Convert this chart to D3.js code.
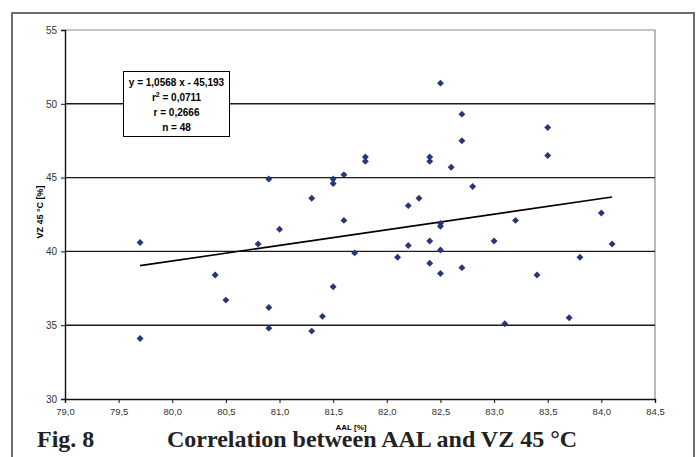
<!DOCTYPE html>
<html>
<head>
<meta charset="utf-8">
<script src="https://cdn.jsdelivr.net/npm/d3@7"></script>
<style>
  body { margin: 0; background: #fff; }
  svg { display: block; }
</style>
</head>
<body>
<svg id="chart" width="700" height="457"></svg>
<script>
// AAL [%] vs VZ 45 °C [%]
var aal = [79.7, 79.7, 80.4, 80.5, 80.8, 80.9, 80.9, 80.9, 81.0, 81.3,
           81.3, 81.4, 81.5, 81.5, 81.5, 81.6, 81.6, 81.7, 81.8, 81.8,
           82.1, 82.2, 82.2, 82.3, 82.4, 82.4, 82.4, 82.4, 82.5, 82.5,
           82.5, 82.5, 82.5, 82.6, 82.7, 82.7, 82.7, 82.8, 83.0, 83.1,
           83.2, 83.4, 83.5, 83.5, 83.7, 83.8, 84.0, 84.1];
var vz = [40.6, 34.1, 38.4, 36.7, 40.5, 44.9, 36.2, 34.8, 41.5, 43.6,
          34.6, 35.6, 44.9, 44.6, 37.6, 45.2, 42.1, 39.9, 46.4, 46.1,
          39.6, 43.1, 40.4, 43.6, 46.4, 46.1, 40.7, 39.2, 51.4, 41.9,
          41.7, 40.1, 38.5, 45.7, 49.3, 47.5, 38.9, 44.4, 40.7, 35.1,
          42.1, 38.4, 48.4, 46.5, 35.5, 39.6, 42.6, 40.5];
var xTicks = [79.0, 79.5, 80.0, 80.5, 81.0, 81.5, 82.0, 82.5, 83.0, 83.5, 84.0, 84.5];
var yTicks = [30, 35, 40, 45, 50, 55];
var fitSlope = 1.0568, fitIntercept = -45.193;
var statLines = ["y = 1,0568 x - 45,193", "r2 = 0,0711", "r = 0,2666", "n = 48"];

var svg = d3.select("#chart");
var x = d3.scaleLinear().domain([79.0, 84.5]).range([65, 655]);
var y = d3.scaleLinear().domain([30, 55]).range([399, 30]);
var comma = function(d){ return d3.format(".1f")(d).replace(".", ","); };

// outer frame
svg.append("rect")
    .attr("x", 12).attr("y", 13).attr("width", 682).attr("height", 480)
    .attr("fill", "none").attr("stroke", "#6d6d6d").attr("stroke-width", 2);

// plot area border (top/right)
svg.append("path")
    .attr("d", "M" + x(79) + "," + y(55) + "H" + x(84.5) + "V" + y(30))
    .attr("fill", "none").attr("stroke", "#8c8c8c").attr("stroke-width", 1.2);

// gridlines
svg.append("g").selectAll("line").data([35, 40, 45, 50]).enter().append("line")
    .attr("x1", x(79)).attr("x2", x(84.5))
    .attr("y1", function(d){ return y(d); }).attr("y2", function(d){ return y(d); })
    .attr("stroke", "#1a1a1a").attr("stroke-width", 1.4);

// axes
var xAxis = svg.append("g").attr("transform", "translate(0," + y(30) + ")")
    .call(d3.axisBottom(x).tickValues(xTicks).tickFormat(comma).tickSize(4).tickPadding(5));
var yAxis = svg.append("g").attr("transform", "translate(" + x(79) + ",0)")
    .call(d3.axisLeft(y).tickValues(yTicks).tickSize(4).tickPadding(4));
[xAxis, yAxis].forEach(function(a){
    a.select(".domain").attr("stroke", "#111").attr("stroke-width", 1.4);
    a.selectAll(".tick line").attr("stroke", "#111");
    a.selectAll("text").attr("fill", "#333")
        .style("font-family", "Liberation Sans, Arial, sans-serif");
});
xAxis.selectAll("text").style("font-size", "9.5px");
yAxis.selectAll("text").style("font-size", "10px");

// regression line over data range
var xr = d3.extent(aal);
svg.append("line")
    .attr("x1", x(xr[0])).attr("y1", y(fitSlope * xr[0] + fitIntercept))
    .attr("x2", x(xr[1])).attr("y2", y(fitSlope * xr[1] + fitIntercept))
    .attr("stroke", "#000").attr("stroke-width", 1.6);

// points
var pts = aal.map(function(d, i){ return [d, vz[i]]; });
svg.append("g").selectAll("path").data(pts).enter().append("path")
    .attr("d", d3.symbol().type(d3.symbolSquare).size(24))
    .attr("transform", function(d){ return "translate(" + x(d[0]) + "," + y(d[1]) + ") rotate(45)"; })
    .attr("fill", "#27367a");

// stats box
svg.append("rect")
    .attr("x", 123.5).attr("y", 71.5).attr("width", 106).attr("height", 65)
    .attr("fill", "#fff").attr("stroke", "#000").attr("stroke-width", 1);
var stats = svg.append("g")
    .style("font-family", "Liberation Sans, Arial, sans-serif")
    .style("font-size", "10px").style("font-weight", "bold");
statLines.forEach(function(s, i){
    var t = stats.append("text").attr("x", 176.5).attr("y", 86 + i * 15)
        .attr("text-anchor", "middle").attr("fill", "#000");
    if (s.indexOf("r2") === 0) {
        t.append("tspan").text("r");
        t.append("tspan").attr("dy", -4).style("font-size", "7px").text("2");
        t.append("tspan").attr("dy", 4).text(" = 0,0711");
    } else {
        t.text(s);
    }
});

// axis titles
svg.append("text")
    .attr("transform", "translate(43," + 212 + ") rotate(-90)")
    .attr("text-anchor", "middle")
    .style("font-family", "Liberation Sans, Arial, sans-serif")
    .style("font-size", "9px").style("font-weight", "bold")
    .text("VZ 45 °C [%]");
svg.append("text")
    .attr("x", 351).attr("y", 430)
    .attr("text-anchor", "middle")
    .style("font-family", "Liberation Sans, Arial, sans-serif")
    .style("font-size", "8px").style("font-weight", "bold")
    .text("AAL [%]");

// caption
var cap = svg.append("g")
    .style("font-family", "Liberation Serif, Times New Roman, serif")
    .style("font-weight", "bold").style("font-size", "24px").attr("fill", "#222");
cap.append("text").attr("x", 37).attr("y", 447).text("Fig. 8");
cap.append("text").attr("x", 167).attr("y", 447).text("Correlation between AAL and VZ 45 °C");
</script>
</body>
</html>
